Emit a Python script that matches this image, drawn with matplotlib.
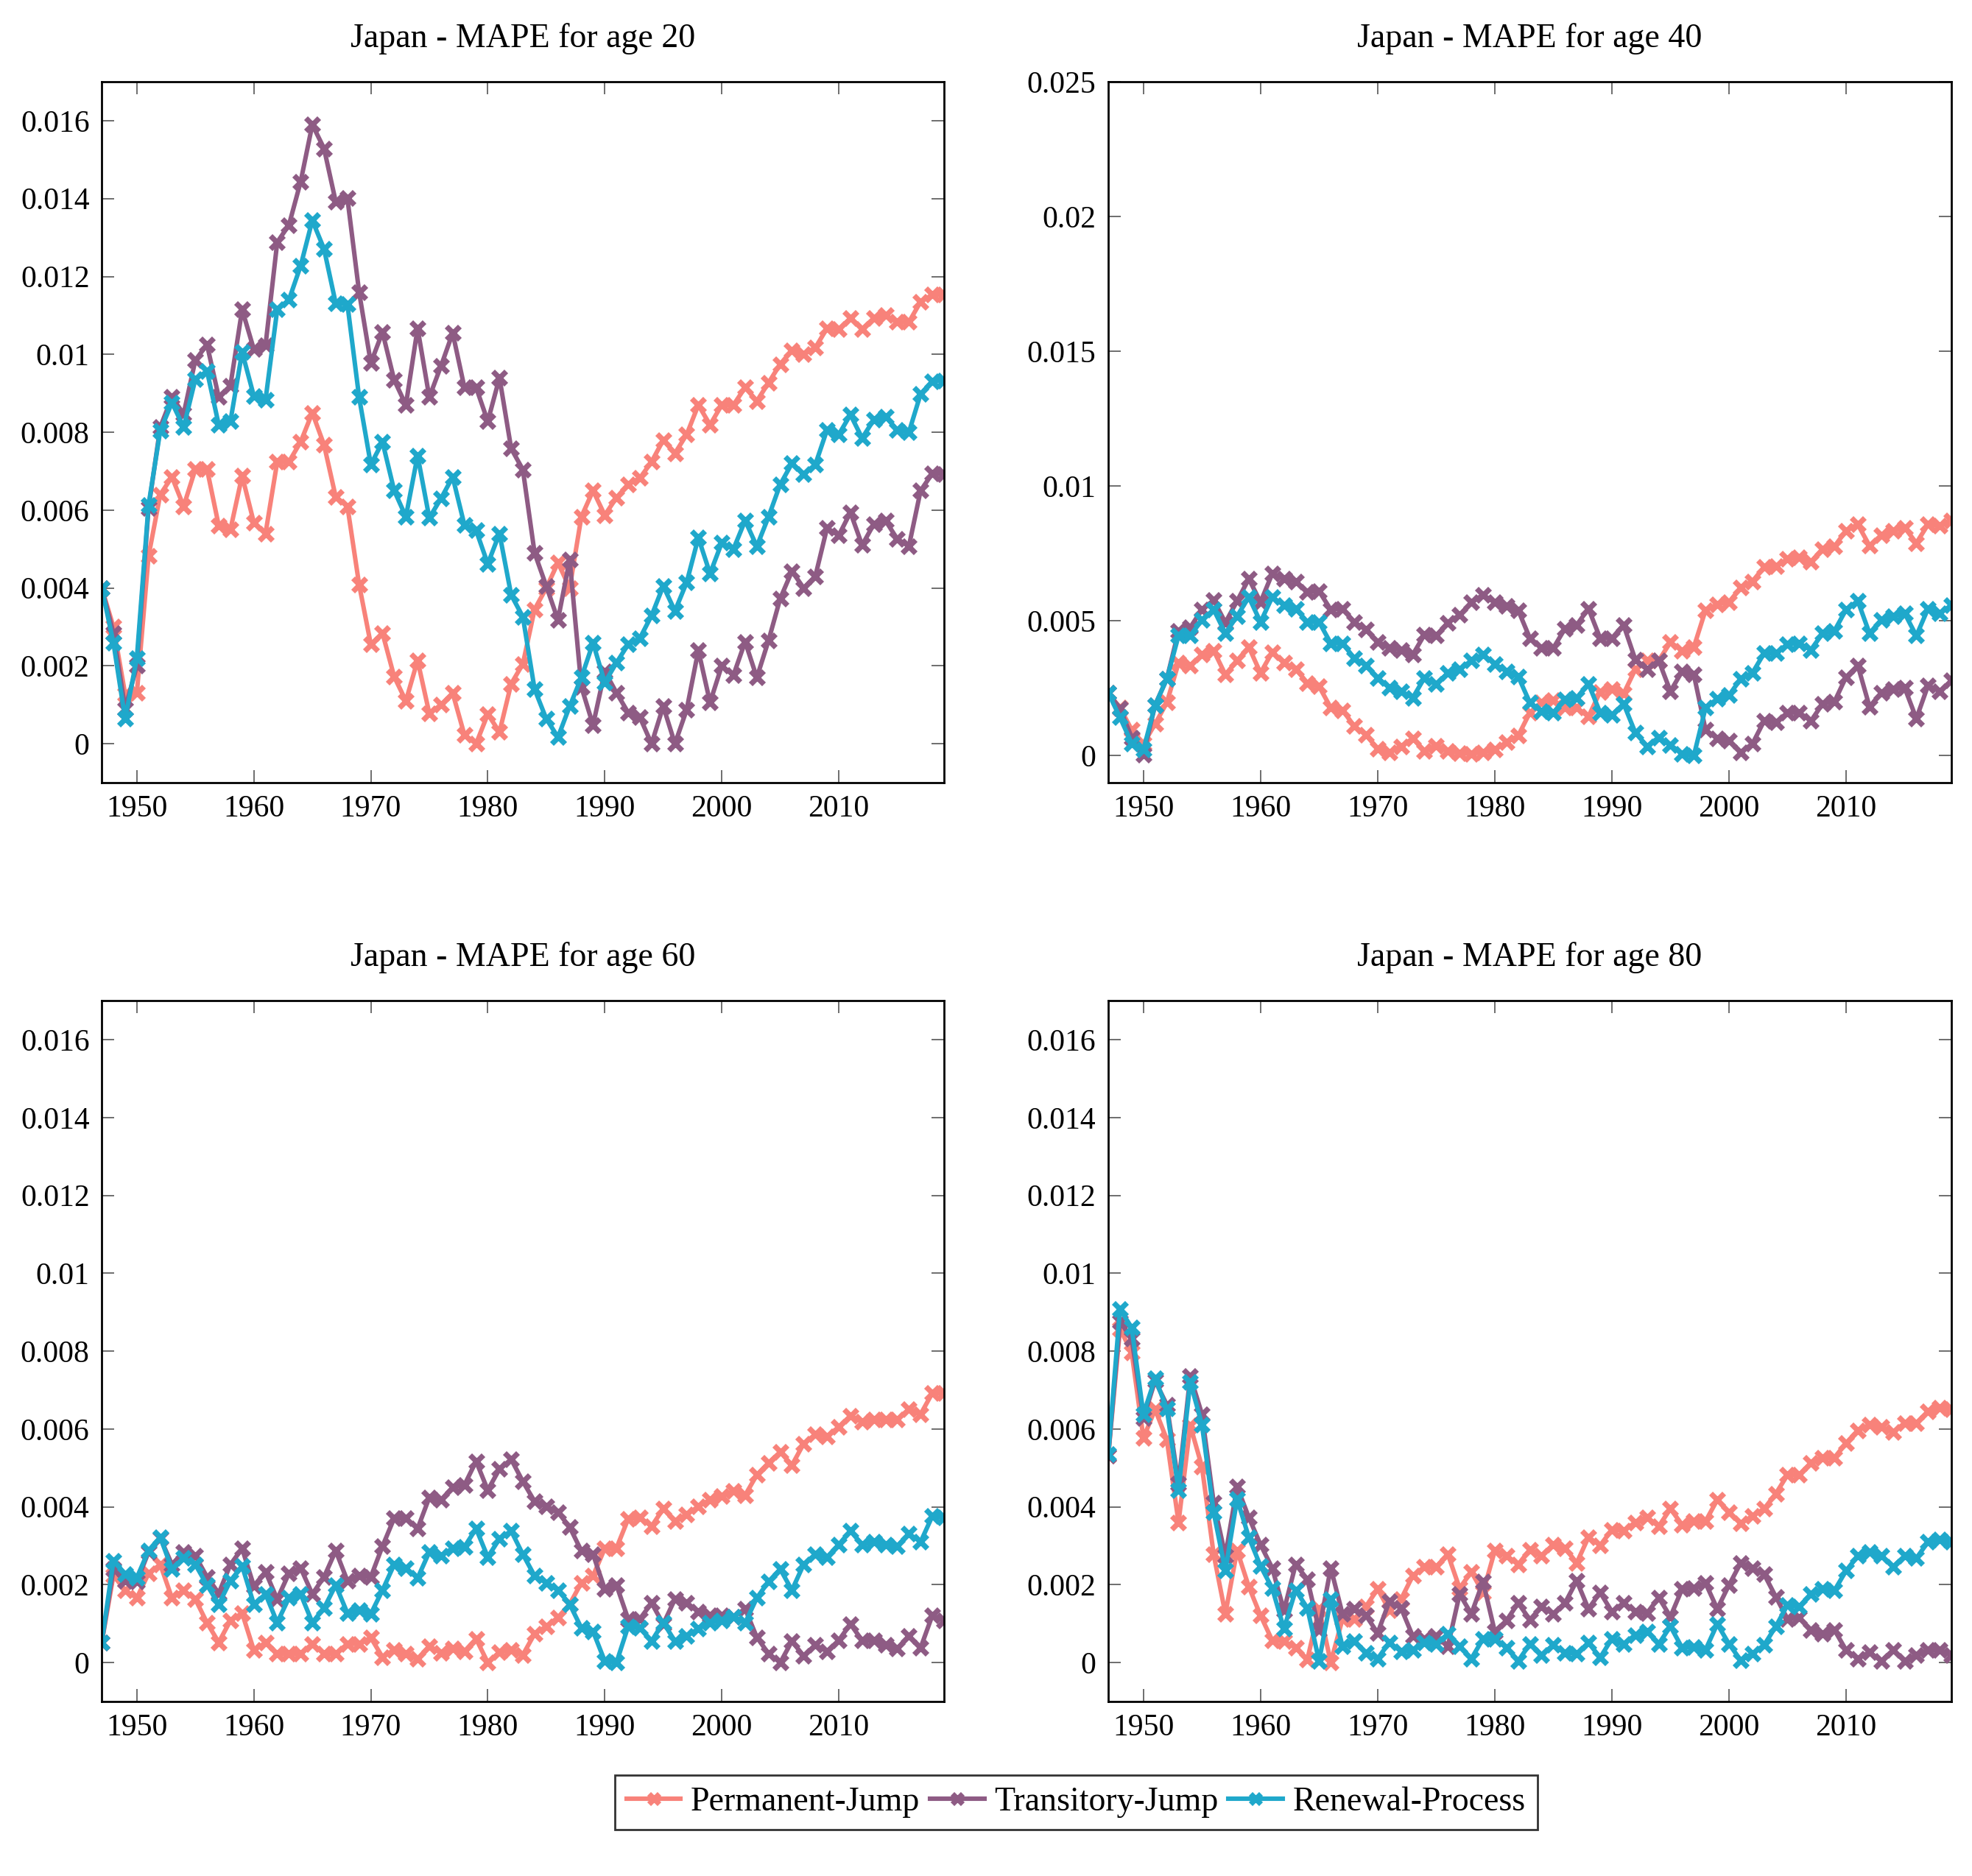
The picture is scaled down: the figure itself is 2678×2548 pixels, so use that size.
import matplotlib
matplotlib.use("Agg")
import matplotlib.pyplot as plt
import numpy as np

plt.rcParams["font.family"] = ["Liberation Serif", "DejaVu Serif"]
plt.rcParams["font.size"] = 15

years = list(range(1947, 2020))

# age 20
pj20 = [0.0040, 0.0030, 0.00127, 0.0013, 0.00482, 0.0064, 0.00685, 0.0061, 0.00705, 0.00705,
        0.0056, 0.0055, 0.00688, 0.00568, 0.0054, 0.00724, 0.00724, 0.00775, 0.0085, 0.00768,
        0.00634, 0.0061, 0.00409, 0.00255, 0.00284, 0.00172, 0.0011, 0.00214, 0.00078, 0.0010,
        0.0013, 0.00023, 0.0, 0.00076, 0.0003, 0.00154, 0.00205, 0.00345, 0.0040, 0.00465,
        0.0040, 0.00583, 0.0065, 0.00587, 0.00632, 0.00666, 0.00682, 0.00724, 0.0078, 0.00746,
        0.00794, 0.0087, 0.00819, 0.0087, 0.0087, 0.00915, 0.0088, 0.00927, 0.00975, 0.0101,
        0.0100, 0.01017, 0.01067, 0.01064, 0.01093, 0.01065, 0.01093, 0.0110, 0.01083, 0.01083,
        0.01135, 0.01153, 0.01154]
tj20 = [0.0040, 0.00284, 0.0009, 0.0020, 0.00605, 0.00813, 0.0089, 0.00847, 0.00985, 0.01025,
        0.0089, 0.0092, 0.01115, 0.01013, 0.01023, 0.01288, 0.01332, 0.01443, 0.0159, 0.01529,
        0.01392, 0.01401, 0.0116, 0.00978, 0.01057, 0.00934, 0.0087, 0.01067, 0.0089, 0.0097,
        0.01055, 0.00915, 0.00915, 0.00828, 0.0094, 0.00758, 0.00704, 0.0049, 0.00405, 0.00318,
        0.00473, 0.00146, 0.00048, 0.00186, 0.00131, 0.0008, 0.00068, 0.0, 0.00096, 0.0,
        0.00087, 0.0024, 0.00106, 0.0020, 0.00176, 0.00262, 0.0017, 0.00265, 0.00373, 0.00443,
        0.0040, 0.0043, 0.00554, 0.00535, 0.00594, 0.0051, 0.00564, 0.00573, 0.00526, 0.00507,
        0.0065, 0.00694, 0.00692]
rp20 = [0.0040, 0.00259, 0.00064, 0.0022, 0.00613, 0.00804, 0.00876, 0.00813, 0.00936, 0.00957,
        0.00819, 0.00828, 0.01006, 0.00893, 0.00883, 0.01115, 0.0114, 0.01227, 0.01344, 0.01271,
        0.01131, 0.01129, 0.0089, 0.00717, 0.00775, 0.0065, 0.00583, 0.0074, 0.0058, 0.0063,
        0.00685, 0.00562, 0.00548, 0.00462, 0.0054, 0.00382, 0.00326, 0.0014, 0.00064, 0.00017,
        0.00096, 0.0017, 0.00259, 0.00157, 0.00208, 0.00255, 0.00271, 0.00329, 0.00405, 0.00341,
        0.00414, 0.00529, 0.00437, 0.00516, 0.0050, 0.00573, 0.00507, 0.00583, 0.00666, 0.0072,
        0.00692, 0.00717, 0.00806, 0.00794, 0.00845, 0.00785, 0.00832, 0.0084, 0.00806, 0.0080,
        0.00898, 0.00931, 0.00933]

# age 40
pj40 = [0.00233, 0.00178, 0.00096, 0.00044, 0.00118, 0.00197, 0.00344, 0.00335, 0.00375, 0.0039,
        0.00301, 0.00353, 0.00403, 0.00307, 0.00384, 0.00344, 0.00322, 0.0027, 0.00257, 0.00178,
        0.00169, 0.0011, 0.00077, 0.00026, 0.00013, 0.00035, 0.00064, 0.00018, 0.00037, 0.00017,
        0.0001, 0.00007, 0.00013, 0.00022, 0.0005, 0.00074, 0.0016, 0.00197, 0.00206, 0.00178,
        0.00178, 0.00145, 0.00237, 0.00248, 0.0023, 0.0032, 0.00353, 0.00353, 0.00421, 0.0039,
        0.00403, 0.0054, 0.00561, 0.0057, 0.00623, 0.00647, 0.00699, 0.00702, 0.0073, 0.00735,
        0.0072, 0.00767, 0.00776, 0.00835, 0.00858, 0.00779, 0.00818, 0.00835, 0.00846, 0.00789,
        0.00858, 0.00853, 0.00873]
tj40 = [0.00233, 0.00175, 0.00068, 0.00004, 0.00188, 0.00285, 0.00463, 0.00476, 0.00542, 0.00577,
        0.00494, 0.00574, 0.00656, 0.0057, 0.00675, 0.00656, 0.00647, 0.00607, 0.0061, 0.00542,
        0.00546, 0.00496, 0.00467, 0.00423, 0.00399, 0.00393, 0.00375, 0.00449, 0.00445, 0.00494,
        0.00522, 0.00568, 0.00597, 0.00568, 0.00555, 0.0054, 0.00436, 0.00399, 0.00399, 0.00472,
        0.00485, 0.00546, 0.00436, 0.00436, 0.00485, 0.00357, 0.0032, 0.00353, 0.00239, 0.00313,
        0.00301, 0.00096, 0.00063, 0.00055, 0.00013, 0.00044, 0.00129, 0.00123, 0.0016, 0.0016,
        0.00129, 0.00193, 0.0020, 0.00292, 0.00335, 0.00182, 0.00233, 0.00248, 0.00252, 0.00138,
        0.00261, 0.00239, 0.00279]
rp40 = [0.00233, 0.00142, 0.00046, 0.00022, 0.00188, 0.00285, 0.00445, 0.00445, 0.00504, 0.00542,
        0.00454, 0.00518, 0.00588, 0.00496, 0.00588, 0.00559, 0.00546, 0.00496, 0.00496, 0.00417,
        0.00417, 0.00362, 0.00335, 0.00289, 0.00252, 0.00239, 0.00215, 0.00289, 0.00265, 0.00307,
        0.0032, 0.00353, 0.00375, 0.0034, 0.00313, 0.00294, 0.00197, 0.00165, 0.0016, 0.0021,
        0.00215, 0.00267, 0.0016, 0.00151, 0.00193, 0.00086, 0.00035, 0.00068, 0.0004, 0.00007,
        0.0, 0.00178, 0.00211, 0.00224, 0.00285, 0.00307, 0.0038, 0.0038, 0.00414, 0.00417,
        0.00393, 0.00454, 0.00463, 0.00542, 0.00574, 0.00454, 0.00504, 0.00518, 0.00528, 0.00445,
        0.00546, 0.00528, 0.00559]

# age 60
pj60 = [0.00052, 0.00224, 0.00185, 0.00166, 0.00229, 0.00252, 0.00166, 0.00185, 0.00163, 0.00102,
        0.00052, 0.00108, 0.00127, 0.00032, 0.00051, 0.00023, 0.00023, 0.00023, 0.00048, 0.00023,
        0.00023, 0.00048, 0.00048, 0.00064, 0.00014, 0.00033, 0.00023, 0.0001, 0.00042, 0.00025,
        0.00036, 0.00029, 0.00061, 0.0, 0.00027, 0.00032, 0.0002, 0.00074, 0.00093, 0.00116,
        0.0015, 0.00205, 0.00223, 0.00293, 0.00294, 0.00369, 0.00373, 0.0035, 0.00395, 0.00363,
        0.0038, 0.00401, 0.00418, 0.00427, 0.0044, 0.0043, 0.00482, 0.00513, 0.00541, 0.00507,
        0.00562, 0.00586, 0.00581, 0.00605, 0.00634, 0.00618, 0.00624, 0.00624, 0.00624, 0.00651,
        0.00638, 0.00692, 0.00692]
tj60 = [0.00052, 0.0024, 0.0021, 0.00208, 0.00284, 0.0032, 0.00252, 0.00284, 0.00274, 0.0022,
        0.00178, 0.00252, 0.00293, 0.00197, 0.00233, 0.00163, 0.00229, 0.00243, 0.00176, 0.0022,
        0.00287, 0.0021, 0.00223, 0.0022, 0.00299, 0.00371, 0.00371, 0.00344, 0.00424, 0.00418,
        0.0045, 0.00456, 0.00517, 0.00443, 0.00497, 0.00522, 0.00465, 0.00414, 0.00401, 0.00386,
        0.00348, 0.00287, 0.00278, 0.00189, 0.00199, 0.00112, 0.00112, 0.00153, 0.00099, 0.00163,
        0.00154, 0.00131, 0.00121, 0.00121, 0.00118, 0.00138, 0.00065, 0.00023, 0.0, 0.00055,
        0.00017, 0.00045, 0.00029, 0.00057, 0.00099, 0.00057, 0.00057, 0.00045, 0.00036, 0.00068,
        0.00038, 0.00121, 0.00108]
rp60 = [0.00052, 0.00262, 0.00227, 0.00218, 0.00288, 0.00322, 0.0024, 0.00268, 0.00252, 0.00199,
        0.0015, 0.0021, 0.00248, 0.0015, 0.00176, 0.00103, 0.00166, 0.00176, 0.00103, 0.0014,
        0.00199, 0.00127, 0.00134, 0.00125, 0.00186, 0.00252, 0.00243, 0.00217, 0.00284, 0.00274,
        0.00294, 0.00297, 0.00344, 0.00271, 0.00318, 0.00338, 0.00278, 0.00223, 0.00205, 0.00186,
        0.0015, 0.00089, 0.0008, 0.00004, 0.0, 0.00093, 0.00089, 0.00055, 0.00103, 0.00055,
        0.00068, 0.00087, 0.00103, 0.00108, 0.00118, 0.00102, 0.00166, 0.00208, 0.0024, 0.00186,
        0.00252, 0.00278, 0.00271, 0.00303, 0.00338, 0.00303, 0.0031, 0.00303, 0.00299, 0.00331,
        0.0031, 0.00376, 0.00373]

# age 80
pj80 = [0.00532, 0.00857, 0.00797, 0.00577, 0.0065, 0.00573, 0.0036, 0.00609, 0.00503, 0.00278,
        0.00125, 0.00288, 0.00195, 0.00121, 0.00057, 0.00055, 0.00038, 0.00008, 0.00138, 0.00001,
        0.00112, 0.00112, 0.00144, 0.00189, 0.00135, 0.00163, 0.00223, 0.00246, 0.00246, 0.00278,
        0.00191, 0.00233, 0.0018, 0.00287, 0.00275, 0.00252, 0.0029, 0.00275, 0.00303, 0.00294,
        0.00256, 0.00322, 0.00301, 0.00341, 0.00339, 0.0036, 0.00373, 0.0035, 0.00395, 0.00354,
        0.00363, 0.00363, 0.00418, 0.00386, 0.00358, 0.00376, 0.00395, 0.00434, 0.00482, 0.00482,
        0.00513, 0.00526, 0.00526, 0.00564, 0.00596, 0.00611, 0.00605, 0.00592, 0.00615, 0.00615,
        0.00645, 0.00654, 0.0065]
tj80 = [0.00532, 0.00876, 0.00832, 0.00628, 0.00724, 0.00662, 0.00459, 0.00736, 0.00638, 0.00411,
        0.00274, 0.00452, 0.00373, 0.00303, 0.00243, 0.00134, 0.00252, 0.00214, 0.00084, 0.00243,
        0.00125, 0.00138, 0.00121, 0.00076, 0.00157, 0.0014, 0.00068, 0.00061, 0.00068, 0.00042,
        0.00176, 0.00125, 0.00208, 0.0008, 0.00108, 0.00153, 0.0011, 0.00144, 0.00125, 0.00153,
        0.0021, 0.00138, 0.0018, 0.00131, 0.00153, 0.00131, 0.00127, 0.00167, 0.00118, 0.00189,
        0.00191, 0.00204, 0.00138, 0.00199, 0.00256, 0.00242, 0.00227, 0.00169, 0.00112, 0.00116,
        0.00083, 0.00074, 0.00084, 0.00032, 0.0001, 0.00027, 0.00004, 0.00032, 0.00004, 0.00019,
        0.00032, 0.00032, 0.0002]
rp80 = [0.00535, 0.00908, 0.0086, 0.00638, 0.0073, 0.00652, 0.00443, 0.00721, 0.00611, 0.00386,
        0.00236, 0.0042, 0.00322, 0.00248, 0.00191, 0.00087, 0.00186, 0.0014, 0.00004, 0.00163,
        0.00042, 0.00055, 0.00025, 0.0001, 0.00052, 0.00029, 0.00032, 0.00052, 0.00048, 0.00074,
        0.00042, 0.0001, 0.00061, 0.00061, 0.00038, 0.00004, 0.00048, 0.0002, 0.00045, 0.00025,
        0.00023, 0.00051, 0.00013, 0.00061, 0.00048, 0.00071, 0.0008, 0.00048, 0.00093, 0.00038,
        0.0004, 0.00033, 0.00099, 0.00048, 0.00006, 0.00023, 0.00045, 0.00093, 0.00148, 0.00144,
        0.00176, 0.00189, 0.00185, 0.00236, 0.00274, 0.00284, 0.00275, 0.00246, 0.00274, 0.00268,
        0.0031, 0.00316, 0.0031]

series_names = ["Permanent-Jump", "Transitory-Jump", "Renewal-Process"]
colors = ["#F8827A", "#8E5B84", "#1FA8CB"]

panels = [
    ("Japan - MAPE for age 20", [pj20, tj20, rp20], 0.017, [0, 0.002, 0.004, 0.006, 0.008, 0.01, 0.012, 0.014, 0.016]),
    ("Japan - MAPE for age 40", [pj40, tj40, rp40], 0.025, [0, 0.005, 0.01, 0.015, 0.02, 0.025]),
    ("Japan - MAPE for age 60", [pj60, tj60, rp60], 0.017, [0, 0.002, 0.004, 0.006, 0.008, 0.01, 0.012, 0.014, 0.016]),
    ("Japan - MAPE for age 80", [pj80, tj80, rp80], 0.017, [0, 0.002, 0.004, 0.006, 0.008, 0.01, 0.012, 0.014, 0.016]),
]

# Achsen-Rechtecke (Anteil der Figur)
rects = [
    [0.0516, 0.5828, 0.4271, 0.3736],
    [0.5620, 0.5828, 0.4276, 0.3736],
    [0.0516, 0.0930, 0.4271, 0.3736],
    [0.5620, 0.0930, 0.4276, 0.3736],
]


def fmt(v):
    if v == 0:
        return "0"
    return "%g" % v


fig = plt.figure(figsize=(13.39, 12.74), dpi=200)
handles = []
for rect, (title, data, ymax, yticks) in zip(rects, panels):
    ax = fig.add_axes(rect)
    for name, vals, c in zip(series_names, data, colors):
        h, = ax.plot(years, vals, color=c, lw=2.2, marker="x", ms=6.5, mew=2.6,
                     label=name)
        if len(handles) < 3:
            handles.append(h)
    ax.set_xlim(1947, 2019)
    ax.set_ylim(-0.001, ymax)
    ax.set_xticks([1950, 1960, 1970, 1980, 1990, 2000, 2010])
    ax.set_yticks(yticks)
    ax.set_yticklabels([fmt(t) for t in yticks])
    ax.tick_params(direction="in", top=True, right=True, length=6, width=0.6,
                   color="#555555", labelsize=15, pad=6)
    for s in ax.spines.values():
        s.set_linewidth(1.0)
    ax.set_title(title, fontsize=16.5, pad=17)

leg = fig.legend(handles=handles, labels=series_names, loc="center",
                 bbox_to_anchor=(0.5457, 0.0392), ncol=3, fontsize=16.5,
                 frameon=True, fancybox=False, edgecolor="black",
                 handlelength=1.6, handletextpad=0.3, columnspacing=0.3,
                 borderpad=0.35, markerscale=0.8)
leg.get_frame().set_linewidth(1.0)

fig.savefig("out.png", dpi=200)
